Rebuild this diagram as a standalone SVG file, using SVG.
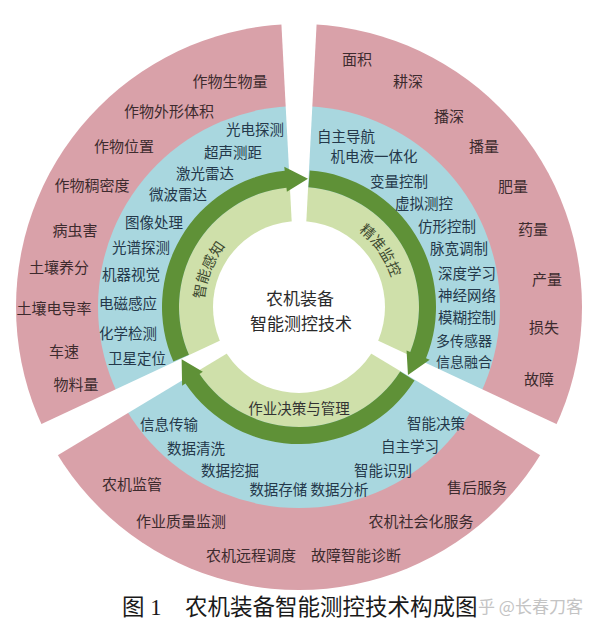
<svg xmlns="http://www.w3.org/2000/svg" width="600" height="632" viewBox="0 0 600 632">
<style>
text{font-family:"Noto Sans CJK SC","Noto Sans",sans-serif;text-anchor:middle;dominant-baseline:central}
.p{font-size:15px;fill:#3d2b2e}
.b{font-size:14.5px;fill:#24384a}
.c{font-size:17px;fill:#2a2a2a}
.r{font-size:14.5px;fill:#3e4a30}
.cap{font-family:"Liberation Serif","Noto Sans CJK SC",serif;font-size:22.5px;fill:#1a1a1a;text-anchor:start}
.wm{font-size:17px;fill:#c4c4c4;text-anchor:start}
.arrow{fill:#5f9137}
</style>
<defs>
<polygon id="gap" points="70,-6.5 300,-18.5 300,18.5 70,6.5" fill="#ffffff"/>
</defs>
<rect width="600" height="632" fill="#ffffff"/>
<g id="rings">
<circle cx="299" cy="307" r="283" fill="#d9a1a9"/>
<circle cx="299" cy="307" r="201" fill="#a9d7df"/>
<circle cx="299" cy="307" r="120" fill="#cfe0aa"/>
<use href="#gap" transform="translate(299,307) rotate(-90)"/>
<use href="#gap" transform="translate(299,307) rotate(28)"/>
<use href="#gap" transform="translate(299,307) rotate(152)"/>
<circle cx="299" cy="307" r="86" fill="#ffffff"/>
</g>
<g id="connectors">
<path class="arrow" d="M173.36,361.62 A137,137 0 0 1 284.68,170.75 L284.27,166.78 L307.97,178.81 L286.88,191.64 L286.46,187.66 A120,120 0 0 0 188.95,354.84 Z"/>
<path class="arrow" d="M309.75,170.42 A137,137 0 0 1 426.03,358.32 L429.74,359.82 L407.97,375.09 L406.56,350.45 L410.26,351.95 A120,120 0 0 0 308.42,187.37 Z"/>
<path class="arrow" d="M414.55,380.61 A137,137 0 0 1 185.43,383.61 L182.11,385.85 L181.62,359.26 L202.84,371.87 L199.52,374.10 A120,120 0 0 0 400.21,371.48 Z"/>
</g>
<g id="center">
<text class="c" x="300" y="297">农机装备</text>
<text class="c" x="301" y="322">智能测控技术</text>
</g>
<g id="perception">
<path id="arcL" d="M208.7,336.7 A96,96 0 0 1 254.9,222.2" fill="none"/>
<text class="r" style="dominant-baseline:alphabetic"><textPath href="#arcL" startOffset="50%">智能感知</textPath></text>
<g id="perception-tech">
<text class="b" x="255" y="128">光电探测</text>
<text class="b" x="233" y="151">超声测距</text>
<text class="b" x="205" y="172">激光雷达</text>
<text class="b" x="178" y="193">微波雷达</text>
<text class="b" x="154" y="221">图像处理</text>
<text class="b" x="141" y="246">光谱探测</text>
<text class="b" x="131" y="273">机器视觉</text>
<text class="b" x="128" y="302">电磁感应</text>
<text class="b" x="128" y="332">化学检测</text>
<text class="b" x="137" y="357">卫星定位</text>
</g>
<g id="perception-objects">
<text class="p" x="230" y="80">作物生物量</text>
<text class="p" x="169" y="110">作物外形体积</text>
<text class="p" x="124" y="145">作物位置</text>
<text class="p" x="92" y="184">作物稠密度</text>
<text class="p" x="75" y="229">病虫害</text>
<text class="p" x="59" y="266">土壤养分</text>
<text class="p" x="54" y="307">土壤电导率</text>
<text class="p" x="64" y="350">车速</text>
<text class="p" x="76" y="383">物料量</text>
</g>
</g>
<g id="control">
<path id="arcR" d="M324.8,214.3 A96,96 0 0 1 395.6,315.4" fill="none"/>
<text class="r" style="dominant-baseline:alphabetic"><textPath href="#arcR" startOffset="50%">精准监控</textPath></text>
<g id="control-tech">
<text class="b" x="346" y="135">自主导航</text>
<text class="b" x="374" y="155">机电液一体化</text>
<text class="b" x="399" y="180">变量控制</text>
<text class="b" x="424" y="202">虚拟测控</text>
<text class="b" x="447" y="225">仿形控制</text>
<text class="b" x="459" y="247">脉宽调制</text>
<text class="b" x="467" y="272">深度学习</text>
<text class="b" x="467" y="294">神经网络</text>
<text class="b" x="467" y="316">模糊控制</text>
<text class="b" x="464" y="340" style="font-size:14px">多传感器</text>
<text class="b" x="464" y="361" style="font-size:14px">信息融合</text>
</g>
<g id="control-objects">
<text class="p" x="357" y="58">面积</text>
<text class="p" x="408" y="80">耕深</text>
<text class="p" x="449" y="115">播深</text>
<text class="p" x="484" y="145">播量</text>
<text class="p" x="513" y="185">肥量</text>
<text class="p" x="533" y="228">药量</text>
<text class="p" x="547" y="278">产量</text>
<text class="p" x="544" y="326">损失</text>
<text class="p" x="539" y="378">故障</text>
</g>
</g>
<g id="decision">
<text class="r" x="299" y="407" style="fill:#333">作业决策与管理</text>
<g id="decision-tech">
<text class="b" x="169" y="423">信息传输</text>
<text class="b" x="196" y="447">数据清洗</text>
<text class="b" x="230" y="469">数据挖掘</text>
<text class="b" x="309" y="488">数据存储 数据分析</text>
<text class="b" x="383" y="469">智能识别</text>
<text class="b" x="410" y="445">自主学习</text>
<text class="b" x="436" y="422">智能决策</text>
</g>
<g id="decision-objects">
<text class="p" x="132" y="483">农机监管</text>
<text class="p" x="181" y="520">作业质量监测</text>
<text class="p" x="251" y="554">农机远程调度</text>
<text class="p" x="356" y="554">故障智能诊断</text>
<text class="p" x="421" y="520">农机社会化服务</text>
<text class="p" x="477" y="486">售后服务</text>
</g>
</g>
<g id="caption">
<text class="cap" x="122" y="607">图 1</text>
<text class="cap" x="185" y="607">农机装备智能测控技术构成图</text>
<text class="wm" x="478" y="605">乎 @长春刀客</text>
</g>
</svg>
